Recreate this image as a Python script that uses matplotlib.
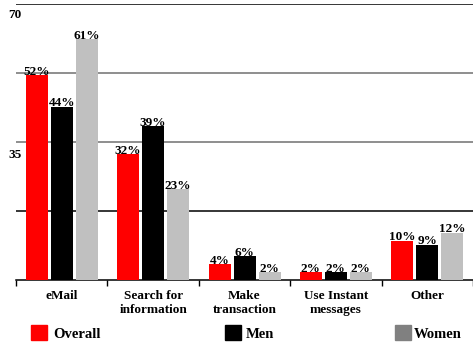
import numpy as np
import matplotlib
matplotlib.use("Agg")
import matplotlib.pyplot as plt

categories = ["eMail", "Search for\ninformation", "Make\ntransaction", "Use Instant\nmessages", "Other"]
overall = [52, 32, 4, 2, 10]
men = [44, 39, 6, 2, 9]
women = [61, 23, 2, 2, 12]
series = ["Overall", "Men", "Women"]
colors = ["#ff0000", "#000000", "#c0c0c0"]
legend_colors = ["#ff0000", "#000000", "#808080"]

plt.rcParams['font.family'] = ['Liberation Serif', 'DejaVu Serif']
plt.rcParams['font.weight'] = 'bold'

W, H = 473, 344
fig = plt.figure(figsize=(W / 100, H / 100), dpi=100)
ax = fig.add_axes([16 / W, (H - 280) / H, 457 / W, 276 / H])

x = np.arange(len(categories))
bw = 22 / 91.4
step = 25 / 91.4
for i, (vals, c) in enumerate(zip([overall, men, women], colors)):
    xs = x + (i - 1) * step
    ax.bar(xs, vals, width=bw, color=c, zorder=3)
    for xi, v in zip(xs, vals):
        ax.text(xi, v - 0.7, f"{v}%", ha='center', va='bottom', fontsize=9.5, fontweight='bold', zorder=4)

ax.set_xlim(-0.5, len(categories) - 0.5)
ax.set_ylim(0, 70)
for yv, col in [(17.5, '#000000'), (35, '#707070'), (52.5, '#707070'), (70, '#000000')]:
    ax.axhline(yv, color=col, lw=1.1, zorder=1)

for s in ['top', 'right', 'left']:
    ax.spines[s].set_visible(False)
ax.spines['bottom'].set_linewidth(1.1)
ax.set_yticks([])
ax.set_xticks(np.arange(len(categories) + 1) - 0.5)
ax.set_xticklabels([])
ax.tick_params(axis='x', direction='out', length=4, width=1)
for xi, lab in zip(x, categories):
    ax.text(xi, -2.6, lab, ha='center', va='top', fontsize=9.5, fontweight='bold', linespacing=1.15)

fig.text(8 / W, 1 - 15 / H, "70", ha='left', va='center', fontsize=9.5, fontweight='bold')
fig.text(8 / W, 1 - 155 / H, "35", ha='left', va='center', fontsize=9.5, fontweight='bold')

# legend
for (lx, tx), name, c in zip([(31, 53), (225, 246), (395, 414)], series, legend_colors):
    fig.patches.append(plt.Rectangle((lx / W, 1 - 340 / H), 16 / W, 15 / H, transform=fig.transFigure, color=c))
    fig.text(tx / W, 1 - 334 / H, name, ha='left', va='center', fontsize=10.5, fontweight='bold')

fig.savefig("out.png", dpi=100)
